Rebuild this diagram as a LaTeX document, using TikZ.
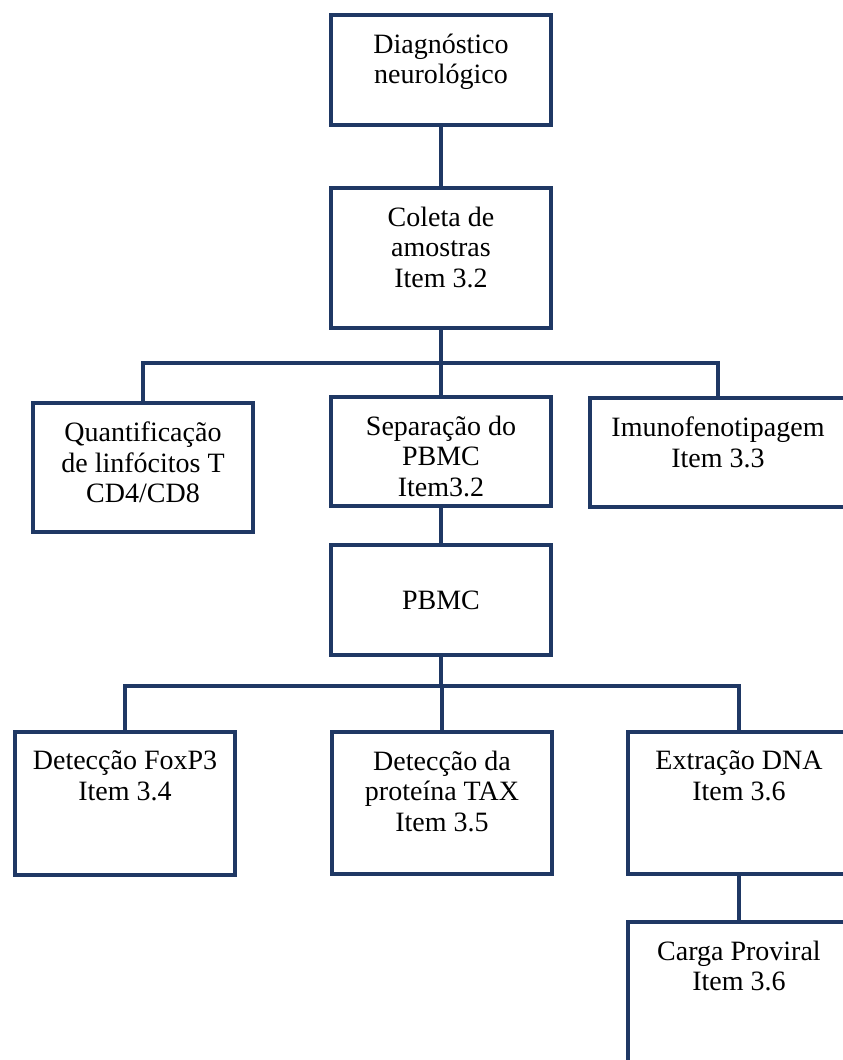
\documentclass[tikz,border=0pt]{standalone}
\usepackage{fontspec}
\setmainfont{Liberation Serif}
\usetikzlibrary{positioning}
\definecolor{navy}{RGB}{31,56,100}
\tikzset{
  box/.style={draw=navy,line width=4.5pt,minimum width=220pt,inner sep=0pt},
  txt/.style={align=center,inner sep=0pt,font=\fontsize{28}{30.5}\selectfont},
  link/.style={draw=navy,line width=4.5pt,line join=miter}
}
\begin{document}
\begin{tikzpicture}[x=1pt,y=-1pt]
\useasboundingbox(0,0)rectangle(843,1060);
\clip(0,0)rectangle(843,1060);
% boxes
\node[box,minimum height=110pt](diag)at(441,70){};
\node[txt,below=21pt of diag.north](diagtxt){Diagnóstico\\neurológico};
\node[box,minimum height=140pt](coleta)at(441,258){};
\node[txt,below=21pt of coleta.north](coletatxt){Coleta de\\amostras\\Item 3.2};
\node[box,minimum height=129pt](quant)at(143,467.5){};
\node[txt,below=21pt of quant.north](quanttxt){Quantificação\\de linfócitos T\\CD4/CD8};
\node[box,minimum height=109pt](sep)at(441,451.5){};
\node[txt,below=21pt of sep.north](septxt){Separação do\\PBMC\\Item3.2};
\node[box,minimum width=256pt,minimum height=109pt](imuno)at(718,452.5){};
\node[txt,below=21pt of imuno.north](imunotxt){Imunofenotipagem\\Item 3.3};
\node[box,minimum height=110pt,txt](pbmc)at(441,600){PBMC};
\node[box,minimum height=143pt](fox)at(125,803.5){};
\node[txt,below=21pt of fox.north](foxtxt){Detecção FoxP3\\Item 3.4};
\node[box,minimum height=142pt](tax)at(442,803){};
\node[txt,below=21pt of tax.north](taxtxt){Detecção da\\proteína TAX\\Item 3.5};
\node[box,minimum width=222pt,minimum height=142pt](extr)at(739,803){};
\node[txt,below=21pt of extr.north](extrtxt){Extração DNA\\Item 3.6};
\node[box,minimum width=222pt,minimum height=142pt](carga)at(739,993){};
\node[txt,below=21pt of carga.north](cargatxt){Carga Proviral\\Item 3.6};
% connectors
\coordinate(hubA)at(441,363);
\coordinate(hubB)at(442,686);
\draw[link](diag.south)--(coleta.north);
\draw[link](coleta.south)--(sep.north);
\draw[link](quant.north)|-(hubA)-|(imuno.north);
\draw[link](sep.south)--(pbmc.north);
\draw[link](pbmc.south)--(pbmc.south|-hubB);
\draw[link](hubB)--(tax.north);
\draw[link](fox.north)|-(hubB)-|(extr.north);
\draw[link](extr.south)--(carga.north);
\end{tikzpicture}
\end{document}
